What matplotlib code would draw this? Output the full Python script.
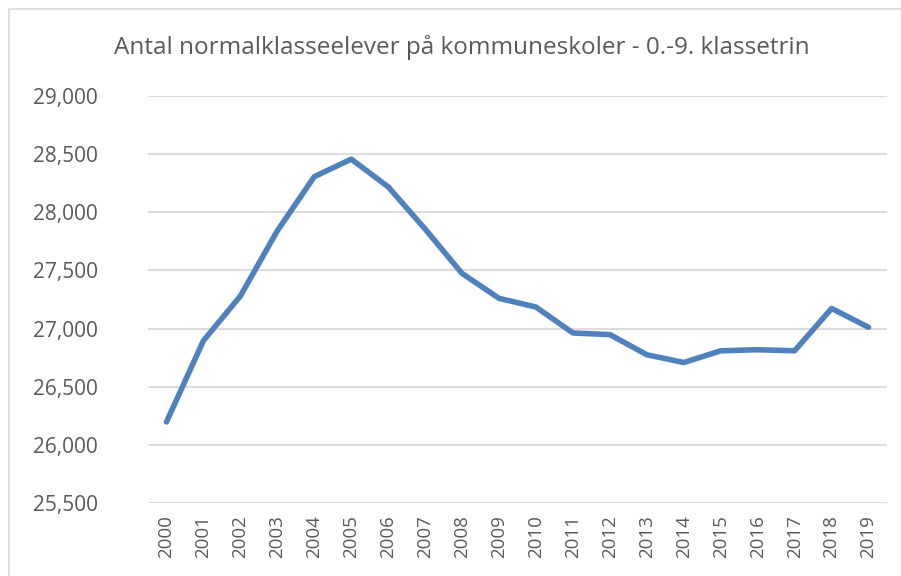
import matplotlib
matplotlib.use("Agg")
import matplotlib.pyplot as plt
from matplotlib.patches import Rectangle
from matplotlib.ticker import FuncFormatter

# data
years = [str(y) for y in range(2000, 2020)]
elever = [26197, 26896, 27280, 27841, 28306, 28457, 28219, 27856, 27474, 27260,
          27185, 26962, 26948, 26775, 26708, 26809, 26818, 26809, 27173, 27011]
title = "Antal normalklasseelever på kommuneskoler - 0.-9. klassetrin"

plt.rcParams['font.family'] = ['Open Sans', 'DejaVu Sans']

fig = plt.figure(figsize=(9.01, 5.76), dpi=100)
ax = fig.add_axes([148/901, 1-503/576, (887-148)/901, (503-96)/576])

x = list(range(len(years)))
ax.plot(x, elever, color='#4f81bd', linewidth=4, solid_capstyle='round', solid_joinstyle='round')

ax.set_ylim(25500, 29000)
ax.set_yticks(range(25500, 29001, 500))
ax.yaxis.set_major_formatter(FuncFormatter(lambda v, p: f"{int(v):,}"))
ax.set_xlim(-0.5, len(years) - 0.5)
ax.set_xticks(x)
ax.set_xticklabels(years, rotation=90)

ax.grid(axis='y', color='#d9d9d9', linewidth=1.3)
ax.set_axisbelow(True)
for s in ax.spines.values():
    s.set_visible(False)
ax.tick_params(length=0, colors='#595959')
ax.tick_params(axis='y', pad=36, labelsize=15)
ax.tick_params(axis='x', pad=9, labelsize=13.5)

fig.text(462/901, 1-47/576, title, ha='center', va='center', fontsize=17.5, color='#595959')

# chart frame
fig.patches.append(Rectangle((9/901, -0.1), 1.2, 1-9/576+0.1, transform=fig.transFigure,
                             fill=False, edgecolor='#d9d9d9', linewidth=1.2))

fig.savefig("out.png", dpi=100)
